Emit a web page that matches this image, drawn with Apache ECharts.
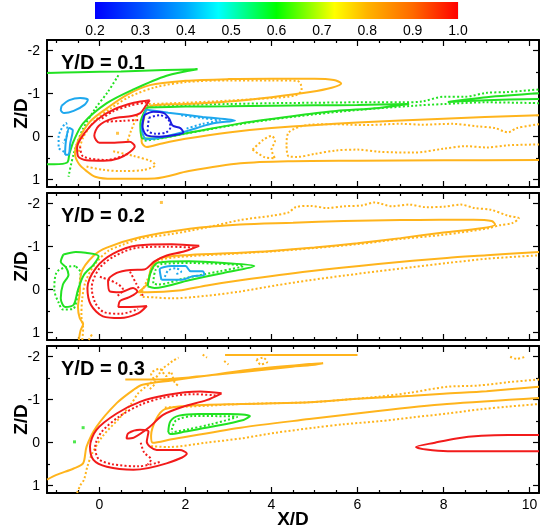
<!DOCTYPE html>
<html>
<head>
<meta charset="utf-8">
<script src="https://cdn.jsdelivr.net/npm/echarts@6/dist/echarts.min.js"></script>
<style>
  html, body { margin: 0; padding: 0; background: #fff; }
  #chart { width: 542px; height: 529px; }
</style>
</head>
<body>
<div id="chart"></div>
<script>
// Contour lines of three Y/D slices, drawn as line series on stacked grids.
const FONT = "'Liberation Sans', Arial, Helvetica, sans-serif";

// axes
const xMajor = [0, 2, 4, 6, 8, 10];
const xMinor = [-1, -0.5, 0.5, 1, 1.5, 2.5, 3, 3.5, 4.5, 5, 5.5, 6.5, 7, 7.5, 8.5, 9, 9.5];
const zMajor = [-2, -1, 0, 1];
const zMinor = [-1.5, -0.5, 0.5];
const panelLabels = ['Y/D = 0.1', 'Y/D = 0.2', 'Y/D = 0.3'];
const cbRange = [[0.2, 1], [1.0, 1]];

// ---- Y/D = 0.1 ----
const p1OrangeSolid = [[10.22,-0.5],[8,-0.42],[6,-0.33],[4,-0.2],[3,-0.1],[2,0.05],[1.4,0.17],[1.1,0.24],[0.98,0.12],[0.98,-0.12],[1.03,-0.4],[1.12,-0.68],[1.35,-0.74],[2,-0.76],[3,-0.82],[4,-0.92],[4.9,-1.04],[5.4,-1.14],[5.62,-1.24],[5.45,-1.32],[5,-1.35],[4,-1.35],[3,-1.34],[2,-1.3],[1.17,-1.2],[0.63,-0.97],[0.17,-0.66],[-0.22,-0.35],[-0.49,0.08],[-0.57,0.39],[-0.48,0.63],[-0.3,0.8],[-0.1,0.93],[0.3,0.98],[1.28,0.97],[2.08,0.8],[3.28,0.62],[4.5,0.57],[6,0.56],[8,0.55],[10.22,0.54]];
const p1OrangeDotA = [[1.15,-0.76],[2,-0.79],[3,-0.84],[4,-0.9],[4.55,-0.96],[4.7,-1.08],[4.68,-1.22],[4.6,-1.3],[4,-1.31],[3,-1.31],[2,-1.27],[1.3,-1.15],[0.7,-0.93],[0.25,-0.65],[-0.12,-0.36],[-0.38,0.02],[-0.48,0.35]];
const p1OrangeDotB = [[0.32,0.34],[0.8,0.45],[1.2,0.57],[1.3,0.66],[1.04,0.77],[0.5,0.8],[0.08,0.77],[-0.32,0.69]];
const p1OrangeDotC = [[3.56,0.3],[3.8,0.08],[4.0,-0.02],[4.08,0.1],[4.0,0.3],[4.08,0.5],[3.85,0.48],[3.56,0.3]];
const p1OrangeDotD = [[10.22,-0.29],[9.7,-0.2],[9.5,-0.1],[9.2,-0.2],[8.8,-0.24],[8.2,-0.3],[7.5,-0.28],[7,-0.3],[6.2,-0.27],[5.5,-0.29],[4.9,-0.28],[4.4,-0.1],[4.35,0.2],[4.4,0.46],[4.6,0.47],[5,0.4],[5.5,0.32],[6,0.3],[6.5,0.35],[7.3,0.37],[8,0.28],[8.5,0.22],[9,0.25],[9.5,0.2],[10.22,0.18]];
const p1OrangeDotE = [[0.88,-0.5],[0.8,-0.3],[0.72,-0.1],[0.64,0.14]];
const p1OrangeMark = [[0.42,-0.08]];
const p1RedSolid = [[1.17,-0.85],[0.8,-0.79],[0.35,-0.64],[-0.05,-0.4],[-0.35,-0.08],[-0.52,0.25],[-0.5,0.45],[-0.3,0.55],[0.1,0.56],[0.45,0.5],[0.7,0.36],[0.82,0.22],[0.7,0.12],[0.35,0.14],[0.0,0.14],[-0.12,-0.02],[-0.02,-0.25],[0.3,-0.42],[0.75,-0.48],[0.95,-0.55],[1.05,-0.68],[1.17,-0.85]];
const p1RedDotA = [[1.1,-0.8],[0.7,-0.72],[0.3,-0.58],[0.0,-0.38]];
const p1RedDotB = [[-0.45,0.23],[-0.38,0.46],[0.17,0.54],[0.71,0.38]];
const p1RedDotC = [[0.17,-0.35],[0.55,-0.37],[0.94,-0.39]];
const p1BlueSolid = [[1.04,-0.5],[1.25,-0.58],[1.5,-0.55],[1.62,-0.42],[1.7,-0.26],[1.88,-0.2],[1.95,-0.1],[1.75,-0.04],[1.4,0.0],[1.1,-0.03],[1.0,-0.25],[1.04,-0.5]];
const p1BlueDot = [[1.15,-0.44],[1.4,-0.5],[1.6,-0.4],[1.65,-0.22],[1.55,-0.1],[1.3,-0.07],[1.12,-0.15],[1.15,-0.44]];
const p1CyanSolid = [[1.08,-0.63],[1.6,-0.56],[2.4,-0.46],[3.15,-0.38],[2.6,-0.3],[2.0,-0.12],[1.5,0.0],[1.1,0.06],[0.98,-0.2],[1.08,-0.63]];
const p1CyanDot = [[1.9,-0.5],[2.4,-0.43],[2.8,-0.38],[2.4,-0.3],[2.0,-0.18]];
const p1CyanSmall = [[-0.88,-0.72],[-0.7,-0.85],[-0.45,-0.9],[-0.27,-0.86],[-0.35,-0.74],[-0.6,-0.6],[-0.82,-0.55],[-0.9,-0.62],[-0.88,-0.72]];
const p1CyanLeft = [[-0.8,0.42],[-0.78,0.1],[-0.7,-0.2],[-0.62,-0.15],[-0.68,0.15],[-0.72,0.42],[-0.8,0.42]];
const p1CyanDotLeft = [[-0.82,0.35],[-0.95,0.25],[-0.95,0.0],[-0.9,-0.15],[-0.78,-0.32],[-0.74,-0.1],[-0.85,0.15]];
const p1GreenSolidA = [[-1.22,-1.48],[-0.5,-1.5],[0.5,-1.52],[1.5,-1.55],[2.28,-1.57],[1.56,-1.42],[0.79,-1.1],[0.17,-0.78],[-0.38,-0.31],[-0.6,0.1],[-0.7,0.4],[-0.75,0.6],[-1.05,0.64],[-1.22,0.64]];
const p1GreenSolidB = [[1.1,-0.68],[2,-0.7],[3,-0.71],[4,-0.72],[5,-0.73],[6,-0.74],[7.2,-0.76],[6.5,-0.67],[5.5,-0.6],[4.88,-0.53],[3.28,-0.31],[2.08,-0.09],[1.3,0.04],[1.0,0.04],[0.95,-0.3],[1.1,-0.68]];
const p1GreenSolidC = [[10.22,-1.01],[9,-0.92],[8.1,-0.81],[9,-0.85],[10.22,-0.88]];
const p1GreenDotA = [[0.44,-1.43],[0.2,-1.05],[-0.1,-0.65],[-0.4,-0.15],[-0.6,0.4],[-0.72,0.93]];
const p1GreenDotB = [[1.1,-0.72],[2,-0.74],[3,-0.76],[4,-0.78],[5,-0.79],[6,-0.8],[7,-0.8],[7.5,-0.82],[8,-0.93],[8.5,-0.93],[9,-1.02],[9.5,-1.04],[10.22,-1.1]];
const p1GreenDotC = [[10.22,-0.78],[9,-0.8],[8,-0.76],[7.3,-0.72],[6,-0.62],[5,-0.52],[4,-0.4],[3,-0.25],[2,-0.07],[1.3,0.06],[1.0,0.1]];

// ---- Y/D = 0.2 ----
const p2OrangeSolid = [[-0.48,1.17],[-0.44,0.95],[-0.38,0.8],[-0.46,0.66],[-0.5,0.4],[-0.46,0.1],[-0.42,-0.4],[-0.15,-0.78],[0.17,-0.98],[0.94,-1.22],[2.1,-1.42],[3.27,-1.52],[4.5,-1.56],[5.68,-1.6],[7,-1.62],[7.92,-1.63],[8.7,-1.63],[9.12,-1.6],[9.2,-1.52],[8.88,-1.43],[8,-1.33],[7,-1.2],[6,-1.08],[5,-0.98],[4,-0.9],[3.27,-0.86],[2.1,-0.81],[1.41,-0.73],[1.2,-0.5],[1.12,-0.15],[0.9,0.06],[1.12,0.06],[1.84,0.02],[2.5,-0.1],[3.28,-0.22],[4.88,-0.43],[6.48,-0.6],[8.08,-0.74],[9,-0.8],[10.22,-0.88]];
const p2OrangeDot = [[-0.4,1.17],[-0.38,0.9],[-0.42,0.6],[-0.4,0.2],[-0.32,-0.2],[-0.1,-0.6],[0.2,-0.9],[0.55,-1.05],[1.0,-1.2],[1.71,-1.3],[2.5,-1.45],[3.27,-1.62],[4.0,-1.72],[4.4,-1.8],[4.56,-1.92],[4.9,-1.95],[5.3,-1.9],[5.68,-1.94],[6.1,-1.96],[6.4,-2.03],[6.8,-1.94],[7.2,-1.98],[7.6,-1.92],[8,-1.93],[8.4,-1.98],[8.72,-1.9],[9.1,-1.86],[9.5,-1.72],[9.75,-1.66],[9.6,-1.55],[9.3,-1.5],[9.05,-1.43],[8,-1.28],[7,-1.18],[6,-1.06],[5,-0.97],[4,-0.89],[3,-0.83],[2.1,-0.78],[1.45,-0.7],[1.25,-0.5],[1.1,-0.2],[0.96,0.14],[1.3,0.18],[1.68,0.2],[2.5,0.14],[3.28,0.04],[4.1,-0.1],[4.88,-0.22],[5.7,-0.33],[6.48,-0.43],[7.3,-0.53],[8.08,-0.62],[9,-0.72],[10.22,-0.8]];
const p2OrangeDotB = [[-0.25,1.17],[-0.15,1.0]];
const p2OrangeMark = [[1.44,-2.03]];
const p2RedSolid = [[2.32,-1.02],[1.68,-1.06],[0.88,-1.03],[0.32,-0.84],[-0.08,-0.51],[-0.28,-0.04],[-0.2,0.35],[0.08,0.62],[0.48,0.66],[0.9,0.55],[1.1,0.38],[0.72,0.4],[0.44,0.4],[0.48,0.26],[0.68,0.18],[0.88,0.04],[0.78,-0.04],[0.48,0.06],[0.24,0.04],[0.2,-0.2],[0.4,-0.39],[0.72,-0.46],[1.04,-0.47],[1.28,-0.66],[1.52,-0.78],[2.0,-0.9],[2.32,-1.02]];
const p2RedDotA = [[2.2,-0.98],[1.6,-1.0],[0.9,-0.98],[0.35,-0.78],[0.0,-0.5],[-0.18,-0.05],[-0.1,0.3],[0.1,0.52],[0.5,0.56],[0.9,0.45]];
const p2RedDotB = [[0.01,-0.3],[0.4,-0.15],[0.55,0.0],[0.4,0.16]];
const p2RedDotC = [[0.71,-0.42],[0.85,-0.15],[1.02,0.16]];
const p2GreenSolidA = [[-0.84,-0.82],[-0.55,-0.88],[-0.32,-0.86],[-0.02,-0.78],[-0.14,-0.58],[-0.36,-0.35],[-0.5,0.0],[-0.6,0.35],[-0.8,0.4],[-0.9,0.2],[-0.85,-0.12],[-0.72,-0.35],[-0.78,-0.52],[-0.9,-0.65],[-0.84,-0.82]];
const p2GreenDotA = [[-0.56,-0.55],[-0.8,-0.52],[-1.0,-0.4],[-1.05,0.0],[-0.95,0.3],[-0.85,0.46],[-0.62,0.45],[-0.5,0.1],[-0.44,-0.4],[-0.56,-0.55]];
const p2GreenSolidB = [[1.12,-0.08],[1.2,-0.43],[1.36,-0.63],[2.08,-0.66],[2.9,-0.62],[3.6,-0.55],[2.88,-0.39],[2.08,-0.22],[1.28,-0.04],[1.12,-0.08]];
const p2GreenDotB = [[1.25,-0.15],[1.3,-0.45],[1.45,-0.6],[2.1,-0.62],[3.35,-0.55],[2.8,-0.43],[2.0,-0.27],[1.35,-0.12],[1.25,-0.15]];
const p2CyanSolid = [[1.44,-0.23],[1.4,-0.47],[1.68,-0.55],[2.0,-0.55],[2.12,-0.43],[2.4,-0.43],[2.44,-0.35],[2.16,-0.31],[1.92,-0.23],[1.44,-0.23]];
const p2CyanDot = [[1.52,-0.3],[1.6,-0.45],[1.78,-0.5],[1.9,-0.42],[1.75,-0.35]];

// ---- Y/D = 0.3 ----
const p3OrangeSolidA = [[-1.22,0.86],[-1.0,0.75],[-0.6,0.6],[-0.38,0.48],[-0.3,0.09],[-0.07,-0.37],[0.4,-0.92],[0.79,-1.23],[1.0,-1.35],[1.68,-1.45],[2.48,-1.56],[3.68,-1.72],[4.88,-1.83],[5.2,-1.85],[4.88,-1.8],[4.48,-1.77],[3.28,-1.64],[2.08,-1.52],[1.28,-1.47],[0.6,-1.47]];
const p3OrangeSolidTop = [[2.92,-2.04],[4.5,-2.04],[6.0,-2.04]];
const p3OrangeSolidB = [[10.22,-1.3],[9,-1.2],[8,-1.14],[7.28,-1.09],[6,-1.02],[4.88,-0.94],[3.28,-0.9],[2.08,-0.86],[1.52,-0.78],[1.32,-0.55],[1.2,-0.16],[1.24,0.0],[1.68,-0.08],[3.28,-0.35],[4.88,-0.55],[6.48,-0.74],[8.08,-0.9],[10.22,-1.04]];
const p3OrangeDotA = [[-0.52,1.17],[-0.45,1.0],[-0.36,0.86],[-0.28,0.55],[-0.16,0.23],[0.08,-0.16],[0.48,-0.59],[0.75,-0.92],[0.9,-1.15],[1.05,-1.28],[1.2,-1.4],[1.3,-1.5],[1.4,-1.62],[1.5,-1.75],[1.6,-1.82],[1.7,-1.9],[1.84,-1.98]];
const p3OrangeDotBlob = [[1.17,-1.25],[1.3,-1.4],[1.2,-1.6],[1.4,-1.72],[1.55,-1.55],[1.65,-1.65],[1.75,-1.4],[1.87,-1.3]];
const p3OrangeDotBits1 = [[2.4,-2.05],[2.5,-1.98]];
const p3OrangeDotBits2 = [[2.9,-1.9],[3.0,-1.82]];
const p3OrangeDotBits3 = [[3.65,-1.93],[3.8,-1.98],[3.9,-1.88],[3.75,-1.82],[3.65,-1.93]];
const p3OrangeDotBits4 = [[9.55,-2.0],[9.7,-1.95],[9.9,-2.0]];
const p3OrangeDotB = [[1.52,-0.82],[2.5,-0.86],[3.28,-0.9],[4.88,-0.94],[5.7,-1.0],[6.48,-1.07],[7.2,-1.16],[8.08,-1.3],[8.8,-1.33],[9.52,-1.41],[10.22,-1.47]];
const p3OrangeDotC = [[1.2,0.08],[1.6,0.1],[2.48,0.0],[3.3,-0.1],[4.08,-0.23],[5,-0.35],[5.68,-0.43],[6.5,-0.5],[7.28,-0.59],[8.1,-0.68],[8.88,-0.78],[9.5,-0.84],[10.22,-0.9]];
const p3RedSolid = [[2.84,-1.15],[2.34,-1.19],[1.56,-1.11],[0.94,-0.95],[0.4,-0.68],[-0.07,-0.3],[-0.22,0.09],[-0.14,0.4],[0.17,0.56],[0.79,0.63],[1.56,0.48],[2.03,0.25],[1.87,0.17],[1.33,0.17],[1.1,-0.02],[1.14,-0.26],[0.94,-0.3],[0.67,-0.22],[0.63,-0.1],[0.8,-0.12],[1.17,-0.37],[1.48,-0.65],[1.95,-0.84],[2.49,-0.99],[2.84,-1.15]];
const p3RedDotA = [[2.7,-1.1],[2.2,-1.13],[1.5,-1.05],[0.95,-0.88],[0.45,-0.6],[0.05,-0.25],[-0.1,0.1],[-0.02,0.38],[0.3,0.5],[0.9,0.55],[1.4,0.45]];
const p3RedDotB = [[0.96,0.0],[1.04,0.23],[1.2,0.39],[1.12,0.51]];
const p3RedRight = [[10.22,-0.18],[9.5,-0.18],[8.88,-0.16],[8.3,-0.1],[7.8,0.0],[7.36,0.1],[7.6,0.16],[8.1,0.2],[9,0.2],[10.22,0.2]];
const p3GreenSolid = [[1.6,-0.25],[1.65,-0.5],[1.85,-0.63],[2.3,-0.67],[3.0,-0.67],[3.5,-0.62],[3.35,-0.53],[2.6,-0.37],[2.0,-0.26],[1.65,-0.2],[1.6,-0.25]];
const p3GreenDot = [[1.68,-0.3],[1.78,-0.52],[2.2,-0.62],[3.2,-0.6],[2.6,-0.43],[2.0,-0.3],[1.68,-0.24]];
const p3GreenMarks = [[-0.58,-0.02],[-0.38,-0.35]];

const COLORS = { red: '#f21b1b', orange: '#ffb41c', green: '#22e222', cyan: '#1ea8ee', blue: '#1c1ce0' };

// [data, colour, dotted]
const panels = [
  [
    [p1OrangeSolid, 'orange', false], [p1OrangeDotA, 'orange', true], [p1OrangeDotB, 'orange', true],
    [p1OrangeDotC, 'orange', true], [p1OrangeDotD, 'orange', true], [p1OrangeDotE, 'orange', true],
    [p1GreenSolidA, 'green', false], [p1GreenSolidB, 'green', false], [p1GreenSolidC, 'green', false],
    [p1GreenDotA, 'green', true], [p1GreenDotB, 'green', true], [p1GreenDotC, 'green', true],
    [p1CyanSolid, 'cyan', false], [p1CyanDot, 'cyan', true], [p1CyanSmall, 'cyan', false],
    [p1CyanLeft, 'cyan', false], [p1CyanDotLeft, 'cyan', true],
    [p1BlueSolid, 'blue', false], [p1BlueDot, 'blue', true],
    [p1RedSolid, 'red', false], [p1RedDotA, 'red', true], [p1RedDotB, 'red', true], [p1RedDotC, 'red', true],
  ],
  [
    [p2OrangeSolid, 'orange', false], [p2OrangeDot, 'orange', true], [p2OrangeDotB, 'orange', true],
    [p2GreenSolidA, 'green', false], [p2GreenDotA, 'green', true],
    [p2GreenSolidB, 'green', false], [p2GreenDotB, 'green', true],
    [p2CyanSolid, 'cyan', false], [p2CyanDot, 'cyan', true],
    [p2RedSolid, 'red', false], [p2RedDotA, 'red', true], [p2RedDotB, 'red', true], [p2RedDotC, 'red', true],
  ],
  [
    [p3OrangeSolidA, 'orange', false], [p3OrangeSolidTop, 'orange', false], [p3OrangeSolidB, 'orange', false],
    [p3OrangeDotA, 'orange', true], [p3OrangeDotBlob, 'orange', true], [p3OrangeDotBits1, 'orange', true],
    [p3OrangeDotBits2, 'orange', true], [p3OrangeDotBits3, 'orange', true], [p3OrangeDotBits4, 'orange', true],
    [p3OrangeDotB, 'orange', true], [p3OrangeDotC, 'orange', true],
    [p3GreenSolid, 'green', false], [p3GreenDot, 'green', true],
    [p3RedSolid, 'red', false], [p3RedDotA, 'red', true], [p3RedDotB, 'red', true], [p3RedRight, 'red', false],
  ],
];
const marks = [[0, p1OrangeMark, 'orange'], [1, p2OrangeMark, 'orange'], [2, p3GreenMarks, 'green']];

const X_MIN = -1.22, X_MAX = 10.22, Z_MIN = -2.25, Z_MAX = 1.17;
const TOPS = [40, 193, 346];
const LEFT = 47, WIDTH = 492, HEIGHT = 147;

const chart = echarts.init(document.getElementById('chart'), null, { renderer: 'canvas' });

const grid = [];
const xAxis = [];
const yAxis = [];
const series = [];
const title = [];
const black = { color: '#000', width: 2 };
const nameStyle = { fontFamily: FONT, fontSize: 19, fontWeight: 'bold', color: '#000' };

function xAx(g, pos, ticks, len, withLine, labels) {
  return {
    gridIndex: g, type: 'value', position: pos, min: X_MIN, max: X_MAX,
    axisLine: { show: withLine, onZero: false, lineStyle: black },
    axisTick: { inside: true, length: len, customValues: ticks, lineStyle: { color: '#000', width: 1.2 } },
    axisLabel: labels
      ? { customValues: ticks, color: '#000', fontSize: 14, fontFamily: FONT, margin: 5 }
      : { show: false },
    splitLine: { show: false },
    name: labels ? 'X/D' : '', nameLocation: 'middle', nameGap: 17, nameMoveOverlap: false,
    nameTextStyle: Object.assign({ verticalAlign: 'top' }, nameStyle),
  };
}

function yAx(g, pos, ticks, len, withLine, labels) {
  return {
    gridIndex: g, type: 'value', position: pos, min: Z_MIN, max: Z_MAX, inverse: true,
    axisLine: { show: withLine, onZero: false, lineStyle: black },
    axisTick: { inside: true, length: len, customValues: ticks, lineStyle: { color: '#000', width: 1.2 } },
    axisLabel: labels
      ? { customValues: ticks, color: '#000', fontSize: 14, fontFamily: FONT, margin: 7 }
      : { show: false },
    splitLine: { show: false },
    name: labels ? 'Z/D' : '', nameLocation: 'middle', nameGap: 16, nameRotate: 90, nameMoveOverlap: false,
    nameTextStyle: nameStyle,
  };
}

panels.forEach((lines, p) => {
  const rect = { left: LEFT, top: TOPS[p], width: WIDTH, height: HEIGHT, outerBoundsMode: 'none', containLabel: false };
  grid.push(Object.assign({}, rect), Object.assign({}, rect));
  // main grid: frame, major ticks, labels
  xAxis.push(xAx(2 * p, 'bottom', xMajor, 6, true, p === 2));
  xAxis.push(xAx(2 * p, 'top', xMajor, 6, true, false));
  // overlay grid: minor ticks only
  xAxis.push(xAx(2 * p + 1, 'bottom', xMinor, 3, false, false));
  xAxis.push(xAx(2 * p + 1, 'top', xMinor, 3, false, false));
  yAxis.push(yAx(2 * p, 'left', zMajor, 6, true, true));
  yAxis.push(yAx(2 * p, 'right', zMajor, 6, true, false));
  yAxis.push(yAx(2 * p + 1, 'left', zMinor, 3, false, false));
  yAxis.push(yAx(2 * p + 1, 'right', zMinor, 3, false, false));

  lines.forEach(([data, c, dotted]) => {
    series.push({
      type: 'line', xAxisIndex: 4 * p, yAxisIndex: 4 * p, data,
      symbol: 'none', smooth: 0.3, silent: true,
      lineStyle: { color: COLORS[c], width: 2, type: dotted ? [2, 2.2] : 'solid' },
      z: dotted ? 3 : 4,
    });
  });

  title.push({
    text: panelLabels[p], left: 61, top: TOPS[p] + 13, padding: 0,
    textStyle: { fontFamily: FONT, fontSize: 20, fontWeight: 'bold', color: '#000' },
  });
});

marks.forEach(([p, data, c]) => {
  series.push({
    type: 'scatter', xAxisIndex: 4 * p, yAxisIndex: 4 * p, data,
    symbol: 'rect', symbolSize: 3, itemStyle: { color: COLORS[c] }, silent: true,
  });
});

// colour bar
const cbGrid = grid.length;
grid.push({ left: 95, top: 2, width: 363, height: 17, outerBoundsMode: 'none', containLabel: false });
xAxis.push({
  gridIndex: cbGrid, type: 'value', min: 0.2, max: 1.0, interval: 0.1,
  axisLine: { show: false }, axisTick: { show: false },
  axisLabel: { color: '#000', fontSize: 14, fontFamily: FONT, margin: 5, formatter: (v) => v.toFixed(1) },
  splitLine: { show: true, lineStyle: { color: 'rgba(0,0,0,0.06)', width: 1 } },
});
yAxis.push({ gridIndex: cbGrid, type: 'value', min: 0, max: 1, show: false });
series.push({
  type: 'line', xAxisIndex: xAxis.length - 1, yAxisIndex: yAxis.length - 1, data: cbRange,
  symbol: 'none', silent: true, lineStyle: { width: 0 }, z: 1,
  areaStyle: {
    opacity: 1, origin: 'start',
    color: new echarts.graphic.LinearGradient(0, 0, 1, 0, [
      { offset: 0, color: '#0000ff' },
      { offset: 0.125, color: '#0050ff' },
      { offset: 0.25, color: '#00a8ff' },
      { offset: 0.34, color: '#00ffff' },
      { offset: 0.5, color: '#00ff00' },
      { offset: 0.66, color: '#ffff00' },
      { offset: 0.75, color: '#ffb400' },
      { offset: 0.875, color: '#ff6a00' },
      { offset: 1, color: '#ff0000' },
    ]),
  },
});

chart.setOption({
  animation: false,
  backgroundColor: '#fff',
  textStyle: { fontFamily: FONT },
  title,
  grid,
  xAxis,
  yAxis,
  series,
});
</script>
</body>
</html>
